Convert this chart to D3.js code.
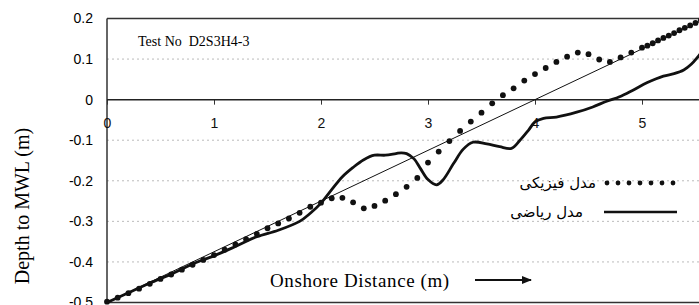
<!DOCTYPE html>
<html>
<head>
<meta charset="utf-8">
<script src="https://cdn.jsdelivr.net/npm/d3@7/dist/d3.min.js"></script>
<style>
  body { margin: 0; background: #fff; }
  svg { display: block; overflow: hidden; }
</style>
</head>
<body>
<svg id="chart"></svg>
<script>
const W = 699, H = 305;

// physical model (dots)
const physX = [0, 0.1, 0.2, 0.3, 0.4, 0.5, 0.6, 0.7, 0.8, 0.9, 1.0, 1.1, 1.2, 1.3, 1.4,
  1.5, 1.6, 1.7, 1.8, 1.9, 2.0, 2.1, 2.2, 2.3, 2.4, 2.5, 2.6, 2.7, 2.8, 2.9,
  3.0, 3.1, 3.2, 3.3, 3.4, 3.5, 3.6, 3.7, 3.8, 3.9, 4.0, 4.1, 4.2, 4.3, 4.4,
  4.5, 4.6, 4.7, 4.8, 4.9, 5.0, 5.05, 5.1, 5.15, 5.2, 5.25, 5.3, 5.35, 5.4, 5.45, 5.5, 5.55];
const physY = [-0.498, -0.488, -0.477, -0.466, -0.454, -0.442, -0.431, -0.419, -0.407, -0.395,
  -0.383, -0.370, -0.357, -0.344, -0.331, -0.317, -0.305, -0.293, -0.279, -0.264,
  -0.254, -0.243, -0.242, -0.253, -0.268, -0.262, -0.249, -0.233, -0.215, -0.193,
  -0.155, -0.128, -0.102, -0.077, -0.054, -0.032, -0.009, 0.011, 0.028, 0.047,
  0.063, 0.078, 0.093, 0.106, 0.116, 0.112, 0.099, 0.093, 0.104, 0.116,
  0.128, 0.133, 0.139, 0.146, 0.152, 0.158, 0.164, 0.171, 0.177, 0.183, 0.189, 0.196];

// mathematical model (solid line)
const mathX = [0, 0.2, 0.4, 0.6, 0.8, 1.0, 1.2, 1.4, 1.6, 1.8, 1.9, 2.0, 2.1, 2.2, 2.3, 2.4,
  2.5, 2.6, 2.7, 2.75, 2.8, 2.87, 2.93, 3.0, 3.08, 3.14, 3.24, 3.33, 3.42, 3.55, 3.67,
  3.78, 3.86, 3.94, 4.0, 4.08, 4.2, 4.39, 4.54, 4.67, 4.79, 4.92, 5.05, 5.2, 5.3, 5.39,
  5.46, 5.53, 5.6];
const mathY = [-0.5, -0.476, -0.452, -0.43, -0.405, -0.385, -0.362, -0.338, -0.322, -0.300,
  -0.280, -0.255, -0.222, -0.190, -0.167, -0.148, -0.137, -0.137, -0.133, -0.131,
  -0.133, -0.146, -0.170, -0.197, -0.210, -0.198, -0.157, -0.122, -0.105, -0.109,
  -0.116, -0.120, -0.100, -0.075, -0.055, -0.046, -0.043, -0.031, -0.018, -0.004,
  0.007, 0.024, 0.042, 0.058, 0.064, 0.073, 0.087, 0.108, 0.130];

// initial beach slope (thin line)
const slopeX = [0, 5.6];
const slopeY = [-0.5, 0.2];

const xTicks = [0, 1, 2, 3, 4, 5];
const yTicks = [0.2, 0.1, 0, -0.1, -0.2, -0.3, -0.4, -0.5];
const gridTicks = [0.1, -0.1, -0.2, -0.3, -0.4];

const x = d3.scaleLinear().domain([0, 6]).range([107, 749]);
const y = d3.scaleLinear().domain([-0.5, 0.2]).range([302.5, 18.5]);

const svg = d3.select("#chart").attr("width", W).attr("height", H);

// grid lines
svg.append("g").selectAll("line")
  .data(gridTicks).join("line")
    .attr("x1", x(0)).attr("x2", W)
    .attr("y1", d => y(d)).attr("y2", d => y(d))
    .attr("stroke", "#bbb")
    .attr("stroke-width", 1)
    .attr("stroke-dasharray", "2,3");

// frame
svg.append("line").attr("x1", x(0)).attr("x2", W).attr("y1", y(0.2)).attr("y2", y(0.2))
  .attr("stroke", "#333").attr("stroke-width", 1.5);
svg.append("line").attr("x1", x(0)).attr("x2", W).attr("y1", y(-0.5)).attr("y2", y(-0.5))
  .attr("stroke", "#333").attr("stroke-width", 1.5);
svg.append("line").attr("x1", x(0)).attr("x2", x(0)).attr("y1", y(0.2)).attr("y2", y(-0.5))
  .attr("stroke", "#333").attr("stroke-width", 1.5);

// y axis labels
svg.append("g").selectAll("text")
  .data(yTicks).join("text")
    .attr("x", 93)
    .attr("y", d => y(d))
    .attr("dy", "0.35em")
    .attr("text-anchor", "end")
    .style("font-family", "'Liberation Sans', Arial, sans-serif")
    .style("font-size", "14px")
    .text(d => d === 0 ? "0" : d3.format(".1f")(d).replace("−", "-"));

// x axis on zero line
const xAxis = d3.axisBottom(x).tickValues(xTicks).tickSize(5).tickFormat(d3.format("d"));
const gx = svg.append("g")
  .attr("transform", "translate(0," + y(0) + ")")
  .call(xAxis);
gx.select(".domain").remove();
gx.selectAll(".tick line").attr("stroke", "#333");
gx.selectAll(".tick text")
  .attr("y", 18)
  .style("font-family", "'Liberation Sans', Arial, sans-serif")
  .style("font-size", "14px")
  .attr("fill", "#111");
svg.append("line").attr("x1", x(0)).attr("x2", W).attr("y1", y(0)).attr("y2", y(0))
  .attr("stroke", "#222").attr("stroke-width", 1.5);

// texts
svg.append("text")
  .attr("x", 138).attr("y", 46)
  .style("font-family", "'Liberation Serif', 'Times New Roman', serif")
  .style("font-size", "14px")
  .attr("xml:space", "preserve")
  .text("Test No  D2S3H4-3");

svg.append("text")
  .attr("transform", "translate(29,206) rotate(-90)")
  .attr("text-anchor", "middle")
  .style("font-family", "'Liberation Serif', 'Times New Roman', serif")
  .style("font-size", "20px")
  .text("Depth to MWL (m)");

svg.append("text")
  .attr("x", 270).attr("y", 287)
  .style("font-family", "'Liberation Serif', 'Times New Roman', serif")
  .style("font-size", "19px")
  .style("letter-spacing", "0.6px")
  .text("Onshore Distance (m)");

// arrow
svg.append("defs").append("marker")
  .attr("id", "head")
  .attr("viewBox", "0 0 10 10")
  .attr("refX", 9).attr("refY", 5)
  .attr("markerWidth", 5).attr("markerHeight", 5)
  .attr("orient", "auto")
  .append("path").attr("d", "M0,1 L10,5 L0,9 Z").attr("fill", "#111");
svg.append("line")
  .attr("x1", 475).attr("x2", 531).attr("y1", 280).attr("y2", 280)
  .attr("stroke", "#111").attr("stroke-width", 2)
  .attr("marker-end", "url(#head)");

// series
const slopeLine = d3.line().x(d => x(d[0])).y(d => y(d[1]));
svg.append("path")
  .datum(d3.zip(slopeX, slopeY))
  .attr("d", slopeLine)
  .attr("fill", "none").attr("stroke", "#111").attr("stroke-width", 1);

const mathLine = d3.line().curve(d3.curveCatmullRom)
  .x(d => x(d[0])).y(d => y(d[1]));
svg.append("path")
  .datum(d3.zip(mathX, mathY))
  .attr("d", mathLine)
  .attr("fill", "none").attr("stroke", "#111").attr("stroke-width", 2.8)
  .attr("stroke-linejoin", "round");

svg.append("g").selectAll("circle")
  .data(d3.zip(physX, physY)).join("circle")
    .attr("cx", d => x(d[0]))
    .attr("cy", d => y(d[1]))
    .attr("r", 2.9)
    .attr("fill", "#111");

// legend
const legend = svg.append("g");
legend.selectAll("circle")
  .data(d3.range(7)).join("circle")
    .attr("cx", d => 607 + d * 11)
    .attr("cy", 183)
    .attr("r", 2.4)
    .attr("fill", "#111");
legend.append("line")
  .attr("x1", 604).attr("x2", 677).attr("y1", 212).attr("y2", 212)
  .attr("stroke", "#111").attr("stroke-width", 2.5);
legend.append("text")
  .attr("x", 596).attr("y", 188)
  .attr("text-anchor", "end")
  .style("font-family", "'DejaVu Sans', sans-serif")
  .style("font-size", "15px")
  .text("مدل فیزیکی");
legend.append("text")
  .attr("x", 583).attr("y", 217)
  .attr("text-anchor", "end")
  .style("font-family", "'DejaVu Sans', sans-serif")
  .style("font-size", "15px")
  .text("مدل ریاضی");
</script>
</body>
</html>
